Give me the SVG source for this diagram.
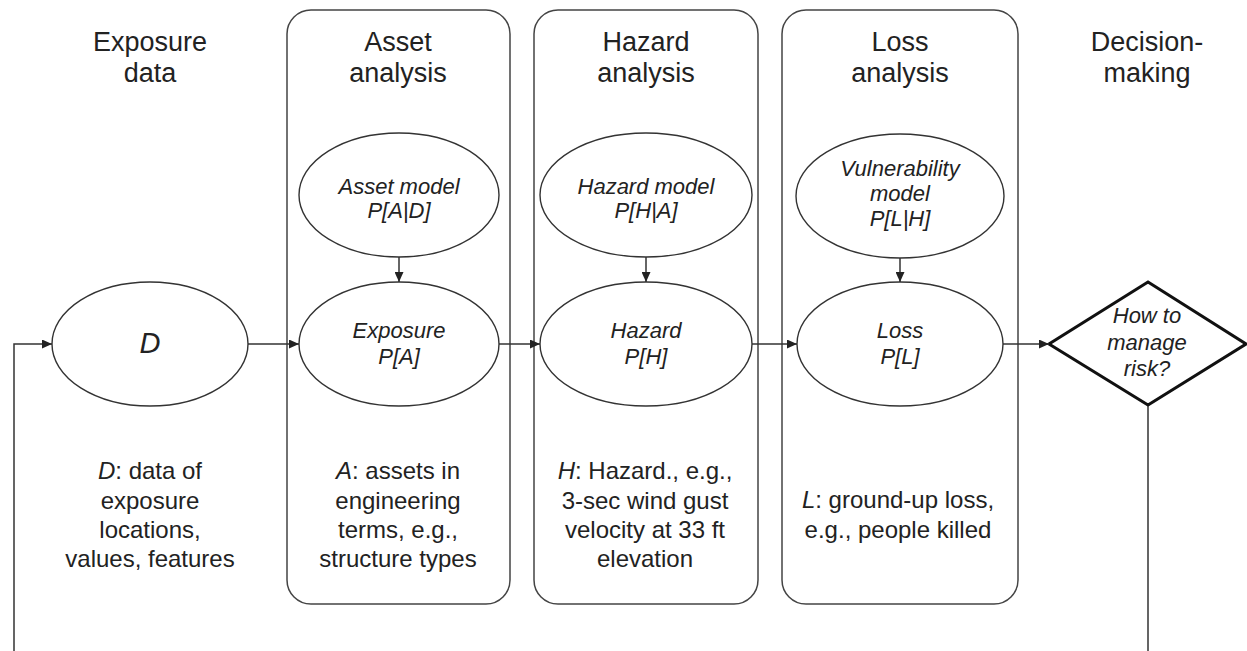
<svg xmlns="http://www.w3.org/2000/svg" width="1247" height="651" viewBox="0 0 1247 651">
<defs>
<style>
.t{font-family:"Liberation Sans",Arial,sans-serif;fill:#222;text-anchor:middle}
.title{font-size:27px}
.desc{font-size:24px}
.el{font-size:22px;font-style:italic}
.i{font-style:italic}
.box{fill:none;stroke:#444;stroke-width:1.5}
.ell{fill:#fff;stroke:#333;stroke-width:1.4}
.con{fill:none;stroke:#333;stroke-width:1.5}
</style>
<marker id="ah" markerUnits="userSpaceOnUse" markerWidth="11" markerHeight="9" refX="10" refY="4.5" orient="auto">
<path d="M0,0 L10,4.5 L0,9 z" fill="#222"/>
</marker>
</defs>
<rect width="1247" height="651" fill="#fff"/>

<g id="exposure-data">
<text class="t title" x="150" y="51">Exposure</text>
<text class="t title" x="150" y="82">data</text>
<ellipse class="ell" cx="150" cy="344" rx="98" ry="62"/>
<text class="t i" x="150" y="353" font-size="29">D</text>
<text class="t desc" x="150" y="479"><tspan class="i">D</tspan>: data of</text>
<text class="t desc" x="150" y="509">exposure</text>
<text class="t desc" x="150" y="538">locations,</text>
<text class="t desc" x="150" y="567">values, features</text>
</g>

<g id="asset-analysis">
<rect class="box" x="287" y="10" width="223" height="594" rx="24"/>
<text class="t title" x="398" y="51">Asset</text>
<text class="t title" x="398" y="82">analysis</text>
<ellipse class="ell" cx="399" cy="195" rx="100" ry="62"/>
<text class="t el" x="399" y="194">Asset model</text>
<text class="t el" x="399" y="218">P[A|D]</text>
<ellipse class="ell" cx="399" cy="344" rx="100" ry="62"/>
<text class="t el" x="399" y="338">Exposure</text>
<text class="t el" x="399" y="364">P[A]</text>
<text class="t desc" x="398" y="479"><tspan class="i">A</tspan>: assets in</text>
<text class="t desc" x="398" y="509">engineering</text>
<text class="t desc" x="398" y="538">terms, e.g.,</text>
<text class="t desc" x="398" y="567">structure types</text>
</g>

<g id="hazard-analysis">
<rect class="box" x="534" y="10" width="224" height="594" rx="24"/>
<text class="t title" x="646" y="51">Hazard</text>
<text class="t title" x="646" y="82">analysis</text>
<ellipse class="ell" cx="646" cy="195" rx="106" ry="62"/>
<text class="t el" x="646" y="194">Hazard model</text>
<text class="t el" x="646" y="218">P[H|A]</text>
<ellipse class="ell" cx="646" cy="344" rx="106" ry="62"/>
<text class="t el" x="646" y="338">Hazard</text>
<text class="t el" x="646" y="364">P[H]</text>
<text class="t desc" x="645" y="479"><tspan class="i">H</tspan>: Hazard., e.g.,</text>
<text class="t desc" x="645" y="509">3-sec wind gust</text>
<text class="t desc" x="645" y="538">velocity at 33 ft</text>
<text class="t desc" x="645" y="567">elevation</text>
</g>

<g id="loss-analysis">
<rect class="box" x="782" y="10" width="236" height="594" rx="24"/>
<text class="t title" x="900" y="51">Loss</text>
<text class="t title" x="900" y="82">analysis</text>
<ellipse class="ell" cx="900" cy="196" rx="104" ry="62"/>
<text class="t el" x="900" y="176">Vulnerability</text>
<text class="t el" x="900" y="201">model</text>
<text class="t el" x="900" y="226">P[L|H]</text>
<ellipse class="ell" cx="900" cy="344" rx="103" ry="62"/>
<text class="t el" x="900" y="338">Loss</text>
<text class="t el" x="900" y="364">P[L]</text>
<text class="t desc" x="898" y="508"><tspan class="i">L</tspan>: ground-up loss,</text>
<text class="t desc" x="898" y="538">e.g., people killed</text>
</g>

<g id="decision-making">
<text class="t title" x="1147" y="51">Decision-</text>
<text class="t title" x="1147" y="82">making</text>
<polygon points="1148,282 1246,344 1148,405 1049,344" fill="#fff" stroke="#111" stroke-width="3" stroke-linejoin="miter"/>
<text class="t el" x="1147" y="323">How to</text>
<text class="t el" x="1147" y="350">manage</text>
<text class="t el" x="1147" y="376">risk?</text>
</g>

<g id="connectors">
<line class="con" x1="248" y1="344" x2="299" y2="344" marker-end="url(#ah)"/>
<line class="con" x1="499" y1="344" x2="540" y2="344" marker-end="url(#ah)"/>
<line class="con" x1="752" y1="344" x2="797" y2="344" marker-end="url(#ah)"/>
<line class="con" x1="1003" y1="344" x2="1049" y2="344" marker-end="url(#ah)"/>
<line class="con" x1="399" y1="257" x2="399" y2="282" marker-end="url(#ah)"/>
<line class="con" x1="646" y1="257" x2="646" y2="282" marker-end="url(#ah)"/>
<line class="con" x1="900" y1="258" x2="900" y2="282" marker-end="url(#ah)"/>
<path class="con" d="M1148,406 L1148,670 L14,670 L14,344 L52,344" marker-end="url(#ah)"/>
</g>
</svg>
